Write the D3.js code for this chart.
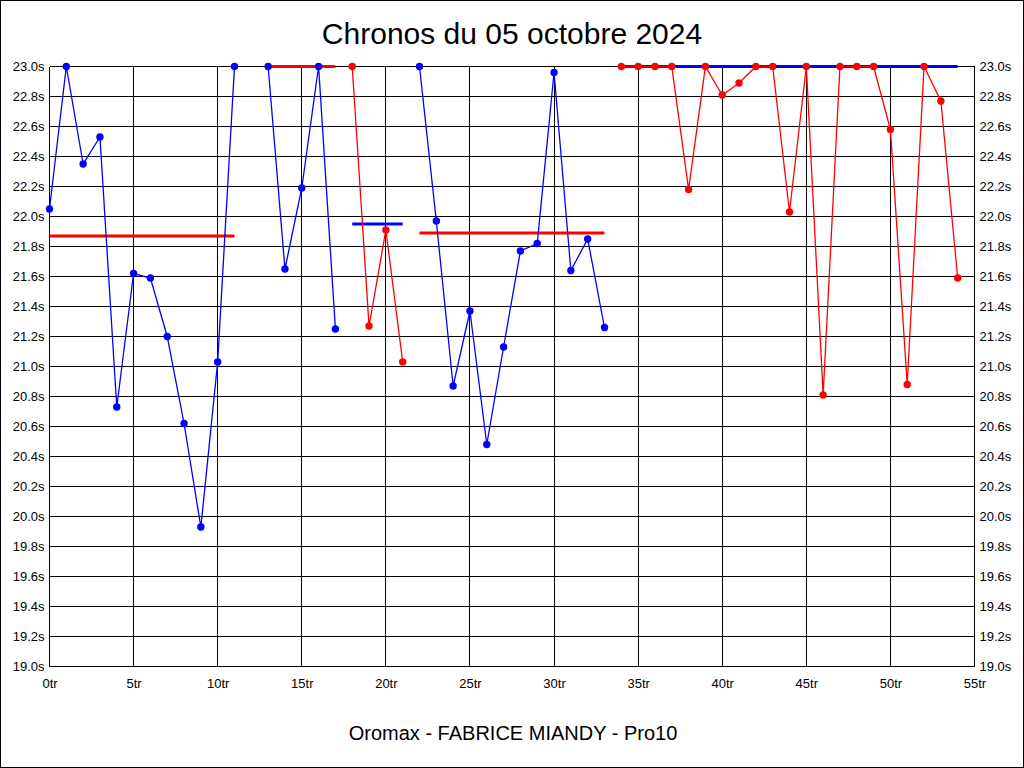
<!DOCTYPE html>
<html>
<head>
<meta charset="utf-8">
<script src="https://cdn.jsdelivr.net/npm/d3@7"></script>
<style>
  html, body { margin: 0; padding: 0; background: #fff; }
  svg { display: block; }
  text { font-family: "Liberation Sans", Arial, sans-serif; }
</style>
</head>
<body>
<svg id="chart" width="1024" height="768"></svg>
<script>
// ---- Data ----
const title = "Chronos du 05 octobre 2024";
const footer = "Oromax - FABRICE MIANDY - Pro10";

// Series segments: lap index start, lap times (s)
const seg1Start = 0;
const seg1Times = [22.05, 23.0, 22.35, 22.53, 20.73, 21.62, 21.59, 21.20, 20.62, 19.93, 21.03, 23.0];
const seg2Start = 13;
const seg2Times = [23.0, 21.65, 22.19, 23.0, 21.25];
const seg3Start = 18;
const seg3Times = [23.0, 21.27, 21.91, 21.03];
const seg4Start = 22;
const seg4Times = [23.0, 21.97, 20.87, 21.37, 20.48, 21.13, 21.77, 21.82, 22.96, 21.64, 21.85, 21.26];
const seg5Start = 34;
const seg5Times = [23.0, 23.0, 23.0, 23.0, 22.18, 23.0, 22.81, 22.89, 23.0, 23.0, 22.03, 23.0, 20.81, 23.0, 23.0, 23.0, 22.58, 20.88, 23.0, 22.77, 21.59];

// Reference lines per segment: [fromLap, toLap, value]
const ref1 = [0, 11, 21.87];
const ref2 = [13, 17, 23.0];
const ref3 = [18, 21, 21.95];
const ref4 = [22, 33, 21.89];
const ref5 = [34, 54, 23.0];

const xTicks = [0, 5, 10, 15, 20, 25, 30, 35, 40, 45, 50, 55];
const yTicks = [19.0, 19.2, 19.4, 19.6, 19.8, 20.0, 20.2, 20.4, 20.6, 20.8, 21.0, 21.2, 21.4, 21.6, 21.8, 22.0, 22.2, 22.4, 22.6, 22.8, 23.0];

const BLUE = "#0000ff", RED = "#ff0000";

const segments = [
  { start: seg1Start, times: seg1Times, color: BLUE, ref: ref1, refColor: RED },
  { start: seg2Start, times: seg2Times, color: BLUE, ref: ref2, refColor: RED },
  { start: seg3Start, times: seg3Times, color: RED,  ref: ref3, refColor: BLUE },
  { start: seg4Start, times: seg4Times, color: BLUE, ref: ref4, refColor: RED },
  { start: seg5Start, times: seg5Times, color: RED,  ref: ref5, refColor: BLUE }
];

// ---- Layout ----
const svg = d3.select("#chart");
const W = 1024, H = 768;
const pLeft = 49.5, pRight = 974.5, pTop = 66.5, pBottom = 666.5;

const x = d3.scaleLinear().domain([0, 55]).range([pLeft, pRight]);
const y = d3.scaleLinear().domain([19.0, 23.0]).range([pBottom, pTop]);

// background + outer border
svg.append("rect").attr("x", 0.5).attr("y", 0.5).attr("width", W - 1).attr("height", H - 1)
  .attr("fill", "#fff").attr("stroke", "#000").attr("stroke-width", 1);

// grid
const grid = svg.append("g").attr("shape-rendering", "crispEdges");
grid.selectAll("line.h").data(yTicks).join("line")
  .attr("x1", pLeft).attr("x2", pRight)
  .attr("y1", d => Math.floor(y(d)) + 0.5).attr("y2", d => Math.floor(y(d)) + 0.5)
  .attr("stroke", "#000").attr("stroke-width", 1);
grid.selectAll("line.v").data(xTicks).join("line")
  .attr("y1", pTop).attr("y2", pBottom)
  .attr("x1", d => Math.floor(x(d)) + 0.5).attr("x2", d => Math.floor(x(d)) + 0.5)
  .attr("stroke", "#000").attr("stroke-width", 1);

// axes (labels via d3 axes, no domain/ticks lines)
const fmtY = d => d3.format(".1f")(d) + "s";
const fmtX = d => d + "tr";

const yLeft = svg.append("g").attr("transform", `translate(${pLeft},0)`)
  .call(d3.axisLeft(y).tickValues(yTicks).tickFormat(fmtY).tickSize(0).tickPadding(5));
const yRight = svg.append("g").attr("transform", `translate(${pRight},0)`)
  .call(d3.axisRight(y).tickValues(yTicks).tickFormat(fmtY).tickSize(0).tickPadding(5));
const xBottom = svg.append("g").attr("transform", `translate(0,${pBottom})`)
  .call(d3.axisBottom(x).tickValues(xTicks).tickFormat(fmtX).tickSize(0).tickPadding(12));
[yLeft, yRight, xBottom].forEach(g => {
  g.select(".domain").remove();
  g.selectAll("text").attr("font-size", 13).attr("fill", "#000")
    .attr("font-family", "'Liberation Sans', Arial, sans-serif");
});

// reference lines
segments.forEach(s => {
  svg.append("line")
    .attr("x1", x(s.ref[0])).attr("x2", x(s.ref[1]))
    .attr("y1", y(s.ref[2])).attr("y2", y(s.ref[2]))
    .attr("stroke", s.refColor).attr("stroke-width", 3);
});

// series
const line = d3.line().x(d => x(d.lap)).y(d => y(d.t));
segments.forEach(s => {
  const pts = s.times.map((t, i) => ({ lap: s.start + i, t }));
  svg.append("path").datum(pts)
    .attr("d", line).attr("fill", "none")
    .attr("stroke", s.color).attr("stroke-width", 1.3);
  svg.append("g").selectAll("circle").data(pts).join("circle")
    .attr("cx", d => x(d.lap)).attr("cy", d => y(d.t)).attr("r", 3.7)
    .attr("fill", s.color);
});

// title & footer
svg.append("text").attr("x", 512).attr("y", 44).attr("text-anchor", "middle")
  .attr("font-size", 30).attr("fill", "#000").text(title);
svg.append("text").attr("x", 513).attr("y", 740).attr("text-anchor", "middle")
  .attr("font-size", 20).attr("fill", "#000").text(footer);
</script>
</body>
</html>
